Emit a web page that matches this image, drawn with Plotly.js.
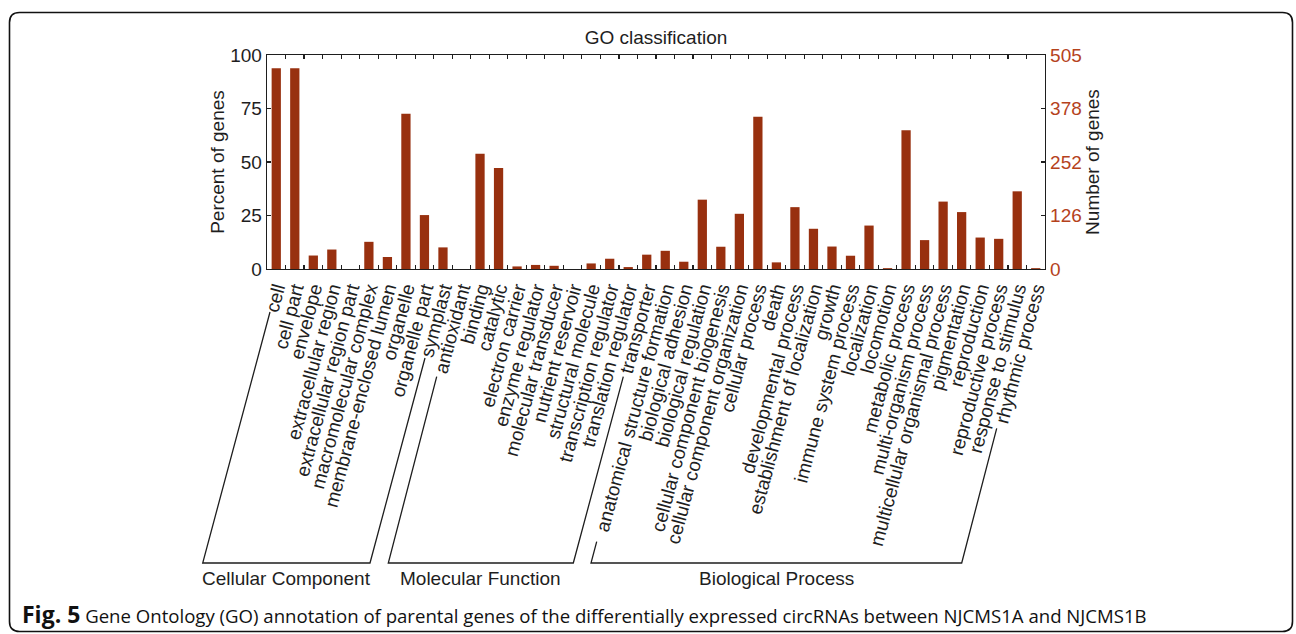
<!DOCTYPE html>
<html>
<head>
<meta charset="utf-8">
<script src="https://cdn.plot.ly/plotly-3.0.1.min.js"></script>
<style>
  html, body { margin: 0; padding: 0; background: #ffffff; }
  #chart { width: 1296px; height: 634px; }
</style>
</head>
<body>
<div id="chart"></div>
<script>
// ---------------- data ----------------
const categories = [
  "cell", "cell part", "envelope", "extracellular region", "extracellular region part",
  "macromolecular complex", "membrane-enclosed lumen", "organelle", "organelle part", "symplast",
  "antioxidant", "binding", "catalytic", "electron carrier", "enzyme regulator",
  "molecular transducer", "nutrient reservoir", "structural molecule", "transcription regulator",
  "translation regulator", "transporter",
  "anatomical structure formation", "biological adhesion", "biological regulation",
  "cellular component biogenesis", "cellular component organization", "cellular process", "death",
  "developmental process", "establishment of localization", "growth", "immune system process",
  "localization", "locomotion", "metabolic process", "multi-organism process",
  "multicellular organismal process", "pigmentation", "reproduction", "reproductive process",
  "response to stimulus", "rhythmic process"
];
const percentGenes = [
  93.8, 93.8, 6.3, 9.1, 0,
  12.7, 5.6, 72.5, 25.2, 10.1,
  0, 53.9, 47.2, 1.2, 1.9,
  1.5, 0, 2.6, 4.8,
  0.9, 6.7,
  8.5, 3.4, 32.4,
  10.4, 25.8, 71.1, 3.1,
  28.9, 18.8, 10.5, 6.2,
  20.3, 0.4, 64.8, 13.5,
  31.5, 26.6, 14.7, 14.1,
  36.3, 0.4
];
const leftTicks = [0, 25, 50, 75, 100];
const rightTickLabels = ["0", "126", "252", "378", "505"];
const totalGenes = 505;
const groupNames = ["Cellular Component", "Molecular Function", "Biological Process"];
const chartTitle = "GO classification";
const leftTitle = "Percent of genes";
const rightTitle = "Number of genes";
const captionBold = "Fig. 5";
const captionText = "Gene Ontology (GO) annotation of parental genes of the differentially expressed circRNAs between NJCMS1A and NJCMS1B";

// ---------------- layout geometry ----------------
const W = 1296, H = 634;
const M = { l: 267, r: 251, t: 55, b: 365 };
const PW = W - M.l - M.r, PH = H - M.t - M.b;
const px = v => (v - M.l) / PW;          // pixel x -> paper x
const py = v => (M.t + PH - v) / PH;     // pixel y -> paper y
const pathFrom = pts => pts.map((p, i) => (i ? "L" : "M") + px(p[0]) + "," + py(p[1])).join(" ");

const BAR = "#98300f";
const RED = "#b5421c";
const INK = "#1e1e1e";
const FONT = 'Arial, "Liberation Sans", Helvetica, sans-serif';

// brackets (group braces below the category labels)
const brackets = [
  [[270, 312], [202.7, 563], [370, 563], [425, 358]],
  [[436.7, 376.7], [388.3, 563], [573.3, 563], [623.3, 376.7]],
  [[596.7, 541.7], [591, 563], [961.7, 563], [996.7, 428.3]]
];
const groupLabelX = [286, 480.3, 776.3];

// rounded outer frame
function roundRect(x0, y0, x1, y1, r) {
  const P = (a, b) => px(a) + "," + py(b);
  return "M" + P(x0 + r, y0) + " L" + P(x1 - r, y0) + " Q" + P(x1, y0) + " " + P(x1, y0 + r) +
         " L" + P(x1, y1 - r) + " Q" + P(x1, y1) + " " + P(x1 - r, y1) +
         " L" + P(x0 + r, y1) + " Q" + P(x0, y1) + " " + P(x0, y1 - r) +
         " L" + P(x0, y0 + r) + " Q" + P(x0, y0) + " " + P(x0 + r, y0) + " Z";
}

const shapes = brackets.map(b => ({
  type: "path", xref: "paper", yref: "paper", path: pathFrom(b),
  line: { color: INK, width: 1.3 }
}));
shapes.push({
  type: "path", xref: "paper", yref: "paper", path: roundRect(9.5, 12.5, 1292.5, 631.5, 10),
  line: { color: "#111", width: 1.6 }
});

const annotations = groupNames.map((g, i) => ({
  text: g, xref: "paper", yref: "paper", x: px(groupLabelX[i]), y: py(578),
  xanchor: "center", yanchor: "middle", showarrow: false,
  font: { family: FONT, size: 19, color: INK }
}));
annotations.push({
  text: '<span style="font-size:23px"><b>' + captionBold + '</b></span> ' + captionText,
  xref: "paper", yref: "paper", x: px(20), y: py(614),
  xanchor: "left", yanchor: "middle", showarrow: false,
  font: { family: '"Open Sans", sans-serif', size: 18.6, color: "#111" }
});

const traces = [
  {
    type: "bar", x: categories, y: percentGenes,
    marker: { color: BAR, line: { width: 0 } },
    hoverinfo: "x+y", showlegend: false
  },
  // empty trace that only registers the right-hand "Number of genes" axis
  { type: "scatter", x: [], y: [], yaxis: "y2", showlegend: false, hoverinfo: "skip" }
];

const layout = {
  width: W, height: H,
  margin: M,
  paper_bgcolor: "#ffffff", plot_bgcolor: "#ffffff",
  bargap: 0.5,
  title: {
    text: chartTitle, x: 0.5, xref: "paper", xanchor: "center",
    y: 1 - 37 / H, yref: "container", yanchor: "middle",
    font: { family: FONT, size: 19, color: INK }
  },
  xaxis: {
    type: "category", range: [-0.5, categories.length - 0.5],
    tickmode: "linear", tick0: 0, dtick: 1,
    tickangle: -75, tickson: "boundaries",
    ticks: "inside", ticklen: 4, tickwidth: 1.1, tickcolor: INK,
    showline: true, linecolor: INK, linewidth: 1.3, mirror: "ticks",
    showgrid: false, zeroline: false,
    tickfont: { family: FONT, size: 19, color: INK },
    automargin: false
  },
  yaxis: {
    range: [0, 100], tickvals: leftTicks, ticktext: leftTicks.map(String),
    ticks: "inside", ticklen: 4, tickwidth: 1.1, tickcolor: INK,
    showline: true, linecolor: INK, linewidth: 1.3, mirror: true,
    showgrid: false, zeroline: false,
    tickfont: { family: FONT, size: 19, color: INK },
    title: { text: leftTitle, standoff: 0, font: { family: FONT, size: 19, color: INK } },
    automargin: false
  },
  yaxis2: {
    overlaying: "y", side: "right", anchor: "x",
    range: [0, totalGenes],
    tickvals: rightTickLabels.map((t, i) => totalGenes * i / (rightTickLabels.length - 1)),
    ticktext: rightTickLabels,
    ticks: "inside", ticklen: 4, tickwidth: 1.1, tickcolor: INK,
    showline: true, linecolor: INK, linewidth: 1.3,
    showgrid: false, zeroline: false,
    tickfont: { family: FONT, size: 19, color: RED },
    title: { text: rightTitle, standoff: 4, font: { family: FONT, size: 19, color: INK } },
    automargin: false
  },
  shapes: shapes,
  annotations: annotations
};

Plotly.newPlot("chart", traces, layout, { displayModeBar: false, staticPlot: true });
</script>
</body>
</html>
